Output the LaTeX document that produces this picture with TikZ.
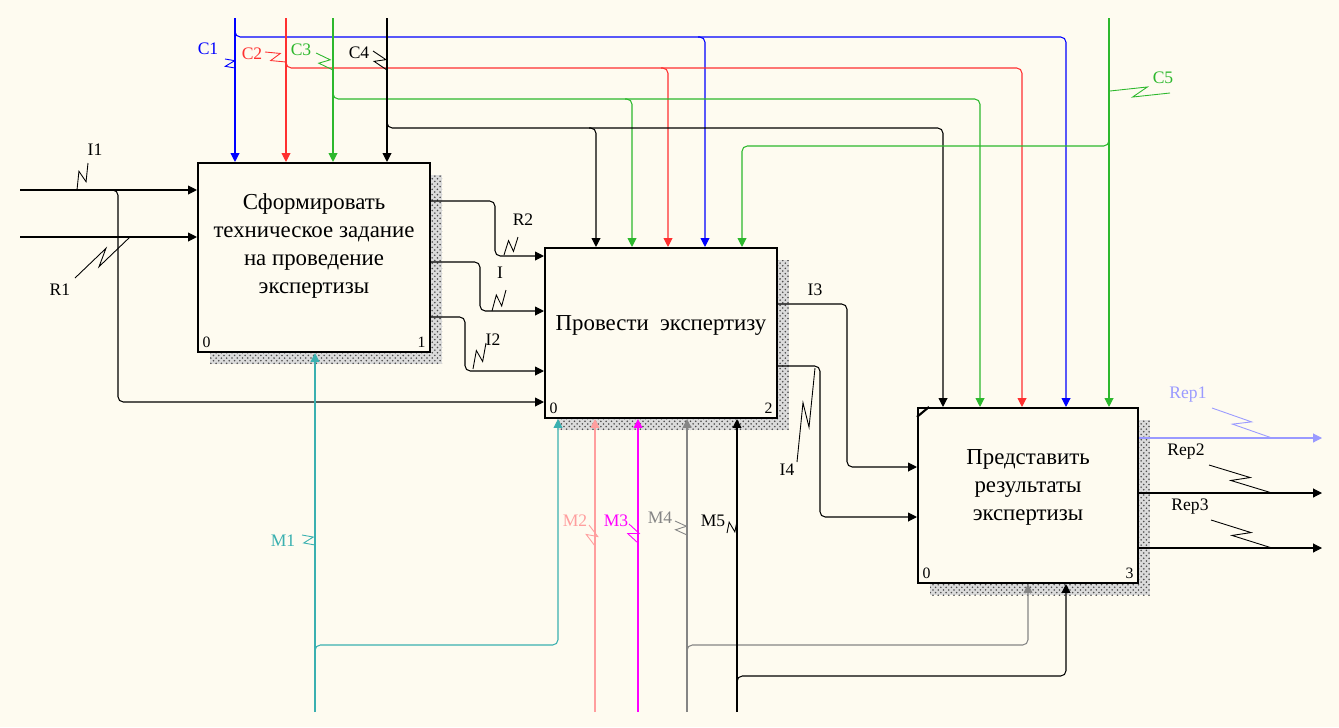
\documentclass[tikz,border=0pt]{standalone}
\usepackage{fontspec}
\setmainfont{Liberation Serif}
\usetikzlibrary{arrows.meta,calc,patterns}

\definecolor{bgc}{HTML}{FEFBF0}
\definecolor{cblue}{HTML}{0000FF}
\definecolor{cred}{HTML}{FF3030}
\definecolor{cgreen}{HTML}{2DB82D}
\definecolor{cteal}{HTML}{3AB0B0}
\definecolor{cpink}{HTML}{FF9E9E}
\definecolor{cmag}{HTML}{FF00FF}
\definecolor{cgray}{HTML}{858585}
\definecolor{clav}{HTML}{9A9AFF}

\tikzset{
  box/.style={draw, line width=1.2pt, fill=bgc, sharp corners, inner sep=0pt},
  txt/.style={align=center, font=\fontsize{13}{15.8}\selectfont, inner sep=0pt},
  hatch/.style={pattern=crosshatch dots, pattern color=black!70},
  line/.style={rounded corners=3pt, line width=0.6pt},
  arr/.style={line, -{Triangle[length=5pt,width=5pt]}},
  lbl/.style={font=\fontsize{10}{11}\selectfont, inner sep=1pt},
  num/.style={font=\fontsize{9}{10}\selectfont, inner sep=3pt},
}
% label squiggle
\newcommand{\zig}[3][black]{\draw[#1, line width=0.5pt] (#2) -- ($(#2)!0.62!(#3)!3pt!90:(#3)$) -- ($(#2)!0.38!(#3)!3pt!-90:(#3)$) -- (#3);}

\begin{document}
\begin{tikzpicture}[x=0.02cm, y=-0.02cm]
  \fill[bgc] (0,0) rectangle (1339,727);
  \useasboundingbox (0,0) rectangle (1339,727);
  % shadows
  \foreach \xa/\ya/\xb/\yb in {210/175/442/364, 557/260/789/430, 930/420/1150/595} {
    \fill[black!14] (\xa,\ya) rectangle (\xb,\yb);
    \path[hatch] (\xa,\ya) rectangle (\xb,\yb);
  }
  % activity boxes
  \node[box, minimum width=4.64cm, minimum height=3.78cm] (b1) at (314,257.5) {};
  \node[box, minimum width=4.64cm, minimum height=3.40cm] (b2) at (661,333) {};
  \node[box, minimum width=4.40cm, minimum height=3.50cm] (b3) at (1028,495.5) {};
  \node[txt] (t1) at ([yshift=6.5pt]b1.center) {Сформировать\\техническое задание\\на проведение\\экспертизы};
  \node[txt] (t2) at ([yshift=4.5pt]b2.center) {Провести\ \ экспертизу};
  \node[txt] (t3) at ([yshift=4.5pt]b3.center) {Представить\\результаты\\экспертизы};
  \node[num, anchor=south west] (n10) at (b1.south west) {0};
  \node[num, anchor=south east] (n11) at (b1.south east) {1};
  \node[num, anchor=south west] (n20) at (b2.south west) {0};
  \node[num, anchor=south east] (n21) at (b2.south east) {2};
  \node[num, anchor=south west] (n30) at (b3.south west) {0};
  \node[num, anchor=south east] (n31) at (b3.south east) {3};
  \draw[line width=1.2pt] ($(b3.north west)+(0,10)$) -- ($(b3.north west)+(12,0)$);

  % controls
  \coordinate (c1) at (235,18);
  \coordinate (c2) at (286,18);
  \coordinate (c3) at (333,18);
  \coordinate (c4) at (387,18);
  \coordinate (c5) at (1109,18);
  \draw[arr, cblue] (c1) -- (c1 |- b1.north);
  \draw[arr, cblue] (235,25) -- (235,37) -- (1066,37) -- (b3.north -| 1066,0);
  \draw[arr, cblue] (698,37) -- (705,37) -- (b2.north -| 705,0);
  \draw[arr, cred] (c2) -- (c2 |- b1.north);
  \draw[arr, cred] (286,56) -- (286,68) -- (1022,68) -- (b3.north -| 1022,0);
  \draw[arr, cred] (661,68) -- (668,68) -- (b2.north -| 668,0);
  \draw[arr, cgreen] (c3) -- (c3 |- b1.north);
  \draw[arr, cgreen] (333,87) -- (333,99) -- (980,99) -- (b3.north -| 980,0);
  \draw[arr, cgreen] (625,99) -- (632,99) -- (b2.north -| 632,0);
  \draw[arr] (c4) -- (c4 |- b1.north);
  \draw[arr] (387,116) -- (387,128) -- (943,128) -- (b3.north -| 943,0);
  \draw[arr] (589,128) -- (596,128) -- (b2.north -| 596,0);
  \draw[arr, cgreen] (c5) -- (c5 |- b3.north);
  \draw[arr, cgreen] (1109,134) -- (1109,146) -- (742,146) -- (b2.north -| 742,0);

  % inputs
  \coordinate (i1) at (20,190);
  \coordinate (r1) at (20,237);
  \draw[arr] (i1) -- (i1 -| b1.west);
  \draw[arr] (r1) -- (r1 -| b1.west);
  \draw[arr] (111,190) -- (118,190) -- (118,402) -- (b2.west |- 0,402);
  \draw[arr] (b1.east |- 0,201) -- (495,201) -- (495,256) -- (b2.west |- 0,256);
  \draw[arr] (b1.east |- 0,262) -- (480,262) -- (480,311) -- (b2.west |- 0,311);
  \draw[arr] (b1.east |- 0,317) -- (465,317) -- (465,371) -- (b2.west |- 0,371);
  \draw[arr] (b2.east |- 0,304) -- (847,304) -- (847,467) -- (b3.west |- 0,467);
  \draw[arr] (b2.east |- 0,366) -- (820,366) -- (820,517) -- (b3.west |- 0,517);

  % outputs
  \draw[arr, clav] (b3.east |- 0,438) -- (1322,438);
  \draw[arr] (b3.east |- 0,493) -- (1322,493);
  \draw[arr] (b3.east |- 0,548) -- (1322,548);

  % mechanisms
  \coordinate (m1) at (315,712);
  \coordinate (m2) at (595,712);
  \coordinate (m3) at (638,712);
  \coordinate (m4) at (687,712);
  \coordinate (m5) at (737,712);
  \draw[arr, cteal] (m1) -- (m1 |- b1.south);
  \draw[arr, cteal] (315,655) -- (315,645) -- (558,645) -- (b2.south -| 558,0);
  \draw[arr, cpink] (m2) -- (m2 |- b2.south);
  \draw[arr, cmag] (m3) -- (m3 |- b2.south);
  \draw[arr, cgray] (m4) -- (m4 |- b2.south);
  \draw[arr, cgray] (687,655) -- (687,645) -- (1028,645) -- (b3.south -| 1028,0);
  \draw[arr] (m5) -- (m5 |- b2.south);
  \draw[arr] (737,686) -- (737,676) -- (1066,676) -- (b3.south -| 1066,0);

  % labels
  \node[lbl, cblue] (lc1) at (208,49) {C1};
  \node[lbl, cred] (lc2) at (252,54) {C2};
  \node[lbl, cgreen] (lc3) at (301,50) {C3};
  \node[lbl] (lc4) at (359,53) {C4};
  \node[lbl, cgreen] (lc5) at (1163,78) {C5};
  \node[lbl] (li1) at (95,150) {I1};
  \node[lbl] (lr1) at (60,290) {R1};
  \node[lbl] (lr2) at (523,220) {R2};
  \node[lbl] (li) at (500,273) {I};
  \node[lbl] (li2) at (493,340) {I2};
  \node[lbl] (li3) at (815,290) {I3};
  \node[lbl] (li4) at (787,470) {I4};
  \node[lbl, clav] (lo1) at (1188,395) {Rep1};
  \node[lbl] (lo2) at (1186,452) {Rep2};
  \node[lbl] (lo3) at (1190,507) {Rep3};
  \node[lbl, cteal] (lm1) at (283,541) {M1};
  \node[lbl, cpink] (lm2) at (575,521) {M2};
  \node[lbl, cmag] (lm3) at (616,521) {M3};
  \node[lbl, cgray] (lm4) at (660,518) {M4};
  \node[lbl] (lm5) at (713,521) {M5};
  \zig[cblue]{225,59}{235,68}
  \zig[cred]{265,52}{286,62}
  \zig[cgreen]{316,53}{333,70}
  \zig{373,51}{387,70}
  \zig[cgreen]{1170,93}{1110,91}
  \zig{88,163}{77,190}
  \zig{75,278}{130,237}
  \zig{518,237}{504,255}
  \zig{506,290}{492,311}
  \zig{486,343}{473,369}
  \zig{797,462}{815,368}
  \zig[clav]{1212,408}{1272,438}
  \zig{1209,465}{1272,493}
  \zig{1211,520}{1272,548}
  \zig[cteal]{302,535}{315,545}
  \zig[cpink]{589,525}{595,546}
  \zig[cmag]{629,524}{638,543}
  \zig[cgray]{675,521}{687,535}
  \zig{727,533}{737,521}
\end{tikzpicture}
\end{document}
